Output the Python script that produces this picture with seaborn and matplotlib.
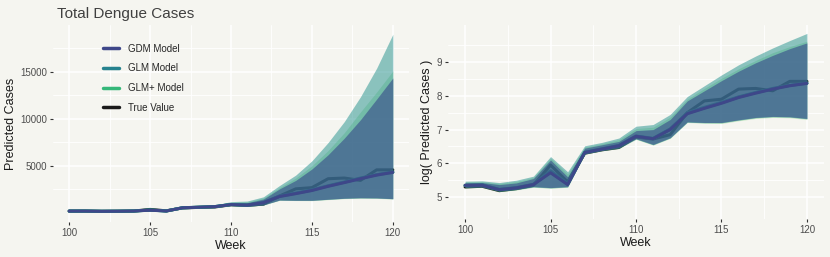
import seaborn as sns
import numpy as np
import matplotlib.pyplot as plt
import pandas as pd

# weeks and log-scale values
weeks = list(range(100, 121))
gdm_log = [5.35, 5.35, 5.22, 5.27, 5.37, 5.72, 5.37, 6.32, 6.42, 6.52, 6.80,
           6.73, 7.00, 7.47, 7.63, 7.78, 7.95, 8.08, 8.20, 8.30, 8.37]
glm_log = [5.34, 5.36, 5.23, 5.28, 5.38, 5.78, 5.40, 6.33, 6.43, 6.53, 6.81,
           6.74, 7.02, 7.50, 7.66, 7.81, 7.97, 8.10, 8.22, 8.31, 8.38]
glmp_log = [5.35, 5.36, 5.22, 5.27, 5.37, 5.75, 5.38, 6.32, 6.42, 6.52, 6.80,
            6.73, 7.01, 7.48, 7.64, 7.79, 7.96, 8.09, 8.21, 8.31, 8.37]
true_log = [5.30, 5.32, 5.19, 5.25, 5.35, 5.95, 5.45, 6.30, 6.40, 6.47, 6.78,
            6.72, 6.85, 7.50, 7.85, 7.90, 8.20, 8.22, 8.15, 8.43, 8.43]

gdm_hi = [5.42, 5.43, 5.37, 5.42, 5.55, 6.10, 5.60, 6.45, 6.55, 6.65, 6.97,
          7.00, 7.30, 7.85, 8.15, 8.45, 8.73, 8.98, 9.20, 9.40, 9.57]
glm_hi = [5.47, 5.48, 5.43, 5.50, 5.62, 6.20, 5.75, 6.52, 6.62, 6.75, 7.10,
          7.15, 7.45, 7.98, 8.30, 8.62, 8.92, 9.18, 9.42, 9.64, 9.85]
glmp_hi = [5.44, 5.45, 5.40, 5.46, 5.58, 6.15, 5.68, 6.48, 6.58, 6.70, 7.03,
           7.07, 7.37, 7.90, 8.22, 8.52, 8.80, 9.05, 9.28, 9.46, 9.62]
gdm_lo = [5.29, 5.30, 5.18, 5.23, 5.31, 5.28, 5.31, 6.28, 6.38, 6.46, 6.73,
          6.56, 6.76, 7.23, 7.21, 7.21, 7.29, 7.36, 7.39, 7.38, 7.33]
glm_lo = [5.28, 5.30, 5.17, 5.22, 5.30, 5.27, 5.30, 6.28, 6.38, 6.45, 6.72,
          6.55, 6.75, 7.22, 7.20, 7.20, 7.28, 7.35, 7.38, 7.37, 7.32]
glmp_lo = [5.27, 5.29, 5.16, 5.21, 5.29, 5.26, 5.29, 6.27, 6.37, 6.44, 6.71,
           6.54, 6.74, 7.21, 7.19, 7.18, 7.26, 7.33, 7.36, 7.35, 7.30]

models = ["GDM Model", "GLM Model", "GLM+ Model", "True Value"]
farben = {"GDM Model": "#3e4789", "GLM Model": "#26828e",
          "GLM+ Model": "#35b779", "True Value": "#1a1a1a"}
band_farben = {"GDM Model": "#3b528b", "GLM Model": "#21908c",
               "GLM+ Model": "#5dc863"}
band_alpha = {"GDM Model": 0.65, "GLM Model": 0.5, "GLM+ Model": 0.3}

df = pd.DataFrame({
    "week": weeks * 4,
    "model": sum([[m] * len(weeks) for m in models], []),
    "log": gdm_log + glm_log + glmp_log + true_log,
})
df["cases"] = np.exp(df["log"])

baender = [("GLM+ Model", glmp_lo, glmp_hi), ("GLM Model", glm_lo, glm_hi),
           ("GDM Model", gdm_lo, gdm_hi)]

sns.set_theme(style="whitegrid")
plt.rcParams["font.family"] = ["Liberation Sans", "DejaVu Sans"]
bg = "#f5f5f0"
plt.rcParams.update({
    "figure.facecolor": bg, "axes.facecolor": bg, "axes.edgecolor": bg,
    "grid.color": "white", "grid.linewidth": 1.1,
    "xtick.color": "#333333", "ytick.color": "#333333",
    "xtick.labelcolor": "#4d4d4d", "ytick.labelcolor": "#4d4d4d",
    "xtick.labelsize": 7, "ytick.labelsize": 7,
    "axes.labelsize": 9, "axes.labelcolor": "#1a1a1a",
    "xtick.major.size": 2.5, "ytick.major.size": 2.5,
    "xtick.minor.size": 0, "ytick.minor.size": 0,
    "xtick.major.width": 0.8, "ytick.major.width": 0.8,
    "xtick.bottom": True, "ytick.left": True,
})

fig = plt.figure(figsize=(8.3, 2.57), dpi=100)
ax1 = fig.add_axes([53 / 830, 1 - 222 / 257, 356 / 830, 197 / 257])
ax2 = fig.add_axes([448 / 830, 1 - 219 / 257, 376 / 830, 194 / 257])

def zeichne(ax, spalte, transform):
    # true value and GLM lines sit under the ribbons, GDM line on top
    d = df[df["model"] == "True Value"]
    sns.lineplot(x=d["week"], y=d[spalte], ax=ax, color=farben["True Value"],
                 lw=2.2, zorder=1, label="True Value")
    for m in ["GLM+ Model", "GLM Model"]:
        d = df[df["model"] == m]
        sns.lineplot(x=d["week"], y=d[spalte], ax=ax, color=farben[m],
                     lw=2.2, zorder=1.5, label=m)
    for m, lo, hi in baender:
        ax.fill_between(weeks, transform(np.array(lo)), transform(np.array(hi)),
                        color=band_farben[m], alpha=band_alpha[m], lw=0, zorder=2)
    d = df[df["model"] == "GDM Model"]
    sns.lineplot(x=d["week"], y=d[spalte], ax=ax, color=farben["GDM Model"],
                 lw=2.2, zorder=3, label="GDM Model")
    ax.set_xlim(99, 121)
    ax.set_xticks([100, 105, 110, 115, 120])
    ax.set_xticks([102.5, 107.5, 112.5, 117.5], minor=True)
    ax.grid(which="minor", color="white", lw=0.6)
    ax.set_xlabel("Week", labelpad=1)
    ax.tick_params(axis="both", pad=2)
    for s in ax.spines.values():
        s.set_visible(False)

zeichne(ax1, "cases", np.exp)
ax1.set_ylim(-950, 19950)
ax1.set_yticks([5000, 10000, 15000])
ax1.set_yticks([2500, 7500, 12500, 17500], minor=True)
ax1.set_ylabel("Predicted Cases", labelpad=2)
ax1.set_title("Total Dengue Cases", loc="left", fontsize=11, color="#404040",
              x=0.01, pad=5)

zeichne(ax2, "log", lambda v: v)
ax2.set_ylim(4.35, 10.1)
ax2.set_yticks([5, 6, 7, 8, 9])
ax2.set_yticks([5.5, 6.5, 7.5, 8.5, 9.5], minor=True)
ax2.set_ylabel("log( Predicted Cases )", labelpad=2)
ax2.get_legend().remove()

handles, labels = ax1.get_legend_handles_labels()
order = [labels.index(m) for m in models]
leg = ax1.legend([handles[i] for i in order], models, loc="upper left",
                 bbox_to_anchor=(0.12, 0.945), frameon=False, fontsize=7,
                 handlelength=1.6, labelspacing=1.0, borderpad=0.3,
                 handletextpad=0.9)
for h in leg.get_lines():
    h.set_linewidth(2.5)

plt.savefig("out.png", dpi=100, facecolor=bg)
